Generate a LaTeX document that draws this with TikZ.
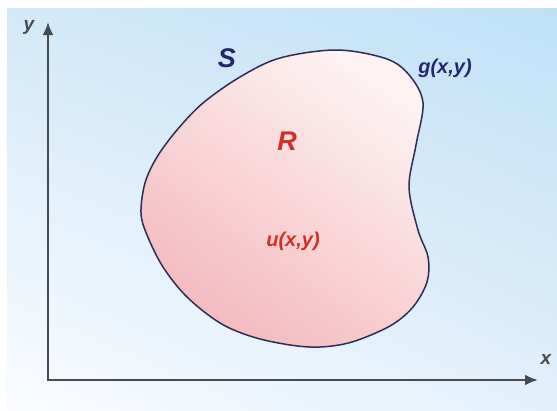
\documentclass[tikz,border=0pt]{standalone}
\usepackage{fontspec}
\setmainfont{Liberation Sans}
\usetikzlibrary{arrows.meta,shadings}
\definecolor{bgTR}{RGB}{192,224,246}
\definecolor{bgTL}{RGB}{210,233,249}
\definecolor{bgBL}{RGB}{250,252,255}
\definecolor{bgBR}{RGB}{226,240,251}
\definecolor{pinkD}{RGB}{243,186,190}
\definecolor{pinkL}{RGB}{254,242,242}
\definecolor{navy}{RGB}{35,40,110}
\definecolor{edge}{RGB}{45,45,85}
\definecolor{redtxt}{RGB}{215,45,40}
\definecolor{axisgray}{RGB}{72,74,78}
\tikzset{
  axisline/.style={draw=axisgray, line width=2.4pt, {Latex[length=13pt,width=11pt]}-{Latex[length=13pt,width=11pt]}},
  blob/.style={draw=edge, line width=1.5pt, top color=pinkL, bottom color=pinkD, shading angle=-35},
  lab/.style={inner sep=0pt},
}
\newcommand{\labfont}[1]{\fontsize{#1}{#1}\selectfont\bfseries\itshape}
\begin{document}
\begin{tikzpicture}[x=1pt,y=-1pt]
\useasboundingbox (0,0) rectangle (557,410);
\fill[white] (0,0) rectangle (557,410);
\shade[upper left=bgTL, upper right=bgTR, lower left=bgBL, lower right=bgBR] (7,8) rectangle (557,410);
\coordinate (ytip) at (48,22);
\coordinate (xtip) at (538,380);
\draw[axisline] (ytip) |- (xtip);
\shade[blob] plot[smooth cycle, tension=0.55] coordinates {
  (141,213) (145,183) (157,157) (177,130) (203,103) (240,77) (280,58)
  (337,50) (387,59) (410,76) (423,103) (416,145) (409,187) (418,230)
  (428,257) (427,282) (413,307) (390,326) (352,342) (320,347) (290,345)
  (253,337) (220,323) (187,297) (163,267) (147,235)};
\node[lab, text=axisgray, font=\labfont{19}] (ylab) at (29,27) {y};
\node[lab, text=axisgray, font=\labfont{19}] (xlab) at (546,359) {x};
\node[lab, text=navy, font=\labfont{27}] (S) at (227,58) {S};
\node[lab, text=redtxt, font=\labfont{27}] (R) at (287,141) {R};
\node[lab, text=navy, font=\labfont{20}] (g) at (445,68) {g(x,y)};
\node[lab, text=redtxt, font=\labfont{20}] (u) at (293,241) {u(x,y)};
\end{tikzpicture}
\end{document}
